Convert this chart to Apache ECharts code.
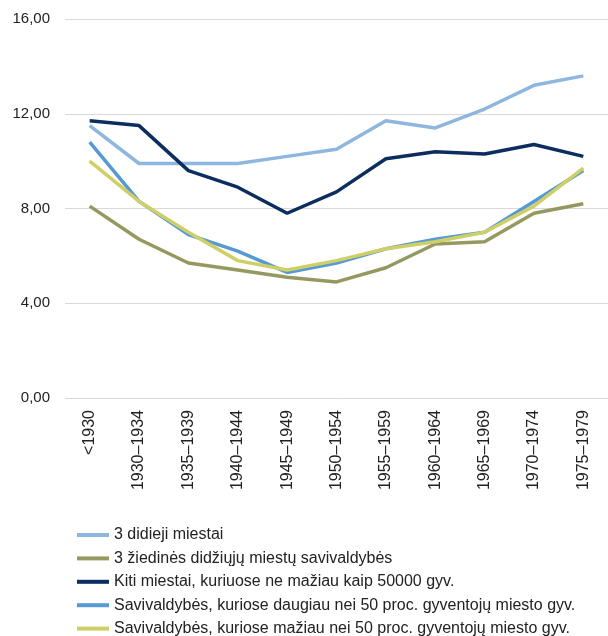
<!DOCTYPE html>
<html>
<head>
<meta charset="utf-8">
<script src="https://cdn.jsdelivr.net/npm/echarts@6/dist/echarts.min.js"></script>
<style>
  html, body { margin: 0; padding: 0; background: #fff; }
  #chart { width: 608px; height: 636px; }
</style>
</head>
<body>
<div id="chart"></div>
<script>
// Statybos laikotarpiai
const categories = ['<1930', '1930–1934', '1935–1939', '1940–1944', '1945–1949', '1950–1954',
  '1955–1959', '1960–1964', '1965–1969', '1970–1974', '1975–1979'];

const didziejiMiestai = [11.5, 9.9, 9.9, 9.9, 10.2, 10.5, 11.7, 11.4, 12.2, 13.2, 13.6];
const ziedinesSavivaldybes = [8.1, 6.7, 5.7, 5.4, 5.1, 4.9, 5.5, 6.5, 6.6, 7.8, 8.2];
const kitiMiestai = [11.7, 11.5, 9.6, 8.9, 7.8, 8.7, 10.1, 10.4, 10.3, 10.7, 10.2];
const savDaugiau = [10.8, 8.3, 6.9, 6.2, 5.3, 5.7, 6.3, 6.7, 7.0, 8.3, 9.6];
const savMaziau = [10.0, 8.3, 7.0, 5.8, 5.4, 5.8, 6.3, 6.6, 7.0, 8.1, 9.7];

const yTicks = [0, 4, 8, 12, 16];

const seriesDefs = [
  { name: '3 didieji miestai', data: didziejiMiestai, color: '#8fb6df' },
  { name: '3 žiedinės didžiųjų miestų savivaldybės', data: ziedinesSavivaldybes, color: '#959960' },
  { name: 'Kiti miestai, kuriuose ne mažiau kaip 50000 gyv.', data: kitiMiestai, color: '#0c2d5f' },
  { name: 'Savivaldybės, kuriose daugiau nei 50 proc. gyventojų miesto gyv.', data: savDaugiau, color: '#5799d4' },
  { name: 'Savivaldybės, kuriose mažiau nei 50 proc. gyventojų miesto gyv.', data: savMaziau, color: '#cfcf68' }
];

const chart = echarts.init(document.getElementById('chart'), null, { renderer: 'canvas' });
const fontFamily = '"Liberation Sans", Arial, sans-serif';

chart.setOption({
  animation: false,
  backgroundColor: '#ffffff',
  grid: { left: 65, top: 19, width: 553, bottom: 238, containLabel: false },
  xAxis: {
    type: 'category',
    data: categories,
    boundaryGap: true,
    axisLine: { show: false },
    axisTick: { show: false },
    axisLabel: {
      rotate: 90,
      margin: 12,
      interval: 0,
      color: '#222',
      fontSize: 16,
      fontFamily: fontFamily
    }
  },
  yAxis: {
    type: 'value',
    min: yTicks[0],
    max: yTicks[yTicks.length - 1],
    interval: yTicks[1] - yTicks[0],
    axisLine: { show: false },
    axisTick: { show: false },
    splitLine: { lineStyle: { color: '#d9d9d9', width: 1 } },
    axisLabel: {
      margin: 15,
      color: '#222',
      fontSize: 15,
      fontFamily: fontFamily,
      formatter: v => v.toFixed(2).replace('.', ',')
    }
  },
  legend: {
    orient: 'vertical',
    left: 77,
    top: 527,
    width: 530,
    height: 120,
    padding: 0,
    itemWidth: 32,
    itemHeight: 4,
    itemGap: 7.4,
    icon: 'rect',
    textStyle: { color: '#222', fontSize: 16, fontFamily: fontFamily },
    data: seriesDefs.map(s => s.name)
  },
  series: seriesDefs.map(s => ({
    name: s.name,
    type: 'line',
    data: s.data,
    symbol: 'none',
    lineStyle: { color: s.color, width: 3.5 },
    itemStyle: { color: s.color }
  }))
});
</script>
</body>
</html>
